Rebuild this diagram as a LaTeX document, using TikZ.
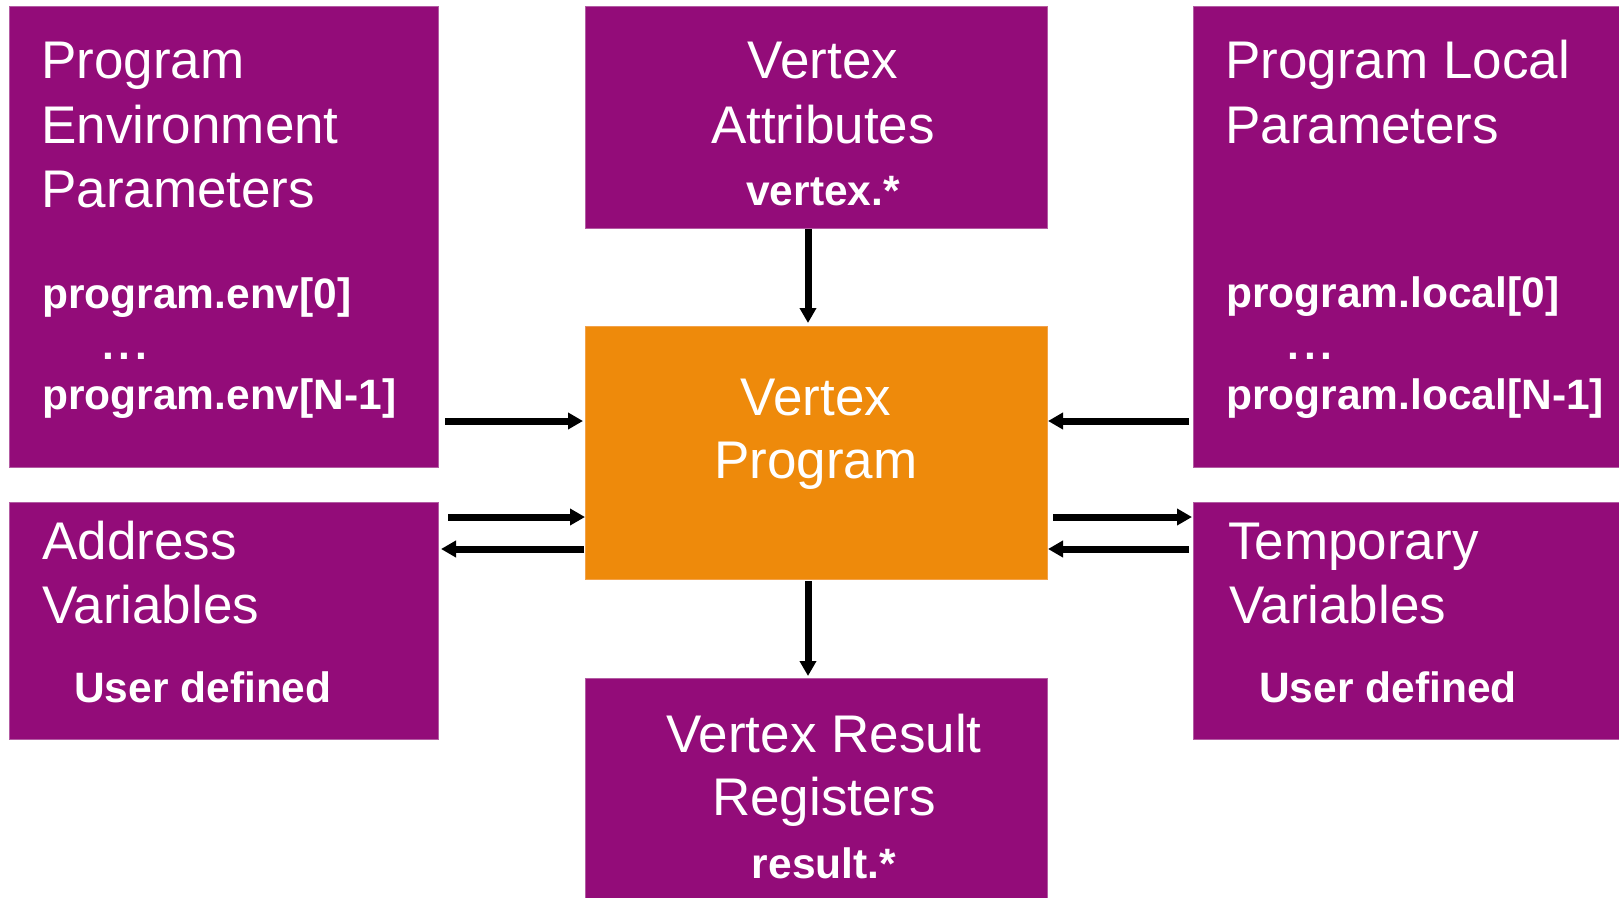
\documentclass[tikz,border=0pt]{standalone}
\usepackage{fontspec}
\setmainfont{Liberation Sans}
\usetikzlibrary{arrows.meta}
\definecolor{purp}{HTML}{930C79}
\definecolor{purpedge}{HTML}{B35CA3}
\definecolor{orng}{HTML}{EE8A0B}
\definecolor{orngedge}{HTML}{F3A24A}
\begin{document}
\begin{tikzpicture}[x=1pt,y=-1pt,
  box/.style={fill=purp,draw=purpedge,line width=0.8pt,inner sep=0pt,outer sep=0pt,anchor=north west},
  core/.style={box,fill=orng,draw=orngedge},
  head/.style={text=white,inner sep=0pt,font=\fontsize{53}{64}\selectfont},
  code/.style={text=white,inner sep=0pt,font=\fontsize{42.5}{51}\selectfont\bfseries},
  lt/.style={anchor=base west},
  ct/.style={anchor=base},
  link/.style={line width=7pt,-{Triangle[length=15pt,width=16pt]}},
]
\useasboundingbox (0,0) rectangle (1619,897);

% register blocks
\node[box,minimum width=429pt,minimum height=461pt] (penv)   at (9,6) {};
\node[box,minimum width=462pt,minimum height=222pt] (vattr)  at (585,6) {};
\node[box,minimum width=440pt,minimum height=461pt] (plocal) at (1193,6) {};
\node[box,minimum width=429pt,minimum height=237pt] (addr)   at (9,502) {};
\node[box,minimum width=440pt,minimum height=237pt] (temp)   at (1193,502) {};
\node[box,minimum width=462pt,minimum height=230pt] (result) at (585,678) {};
\node[core,minimum width=462pt,minimum height=253pt] (prog)  at (585,326) {};

% program environment parameters
\node[head,lt] (penvA) at (41,78)  {Program};
\node[head,lt] (penvB) at (41,143) {Environment};
\node[head,lt] (penvC) at (41,207) {Parameters};
\node[code,lt] (penvD) at (42,308) {program.env[0]};
\node[code,lt] (penvE) at (102,359) {.\kern5pt.\kern5pt.};
\node[code,lt] (penvF) at (42,409) {program.env[N-1]};

% vertex attributes
\node[head,ct] (vattrA) at (823,78)  {Vertex};
\node[head,ct] (vattrB) at (823,143) {Attributes};
\node[code,ct] (vattrC) at (823,205) {vertex.*};

% program local parameters
\node[head,lt] (plocA) at (1225,78)  {Program Local};
\node[head,lt] (plocB) at (1225,143) {Parameters};
\node[code,lt] (plocC) at (1226,307) {program.local[0]};
\node[code,lt] (plocD) at (1287,359) {.\kern5pt.\kern5pt.};
\node[code,lt] (plocE) at (1226,409) {program.local[N-1]};

% vertex program
\node[head,ct] (progA) at (816,415) {Vertex};
\node[head,ct] (progB) at (816,478) {Program};

% address variables
\node[head,lt] (addrA) at (42,559) {Address};
\node[head,lt] (addrB) at (42,623) {Variables};
\node[code,lt] (addrC) at (74,702) {User defined};

% temporary variables
\node[head,lt] (tempA) at (1228,559) {Temporary};
\node[head,lt] (tempB) at (1229,623) {Variables};
\node[code,lt] (tempC) at (1259,702) {User defined};

% vertex result registers
\node[head,ct] (resA) at (824,752) {Vertex Result};
\node[head,ct] (resB) at (824,815) {Registers};
\node[code,ct] (resC) at (824,878) {result.*};

% data flow
\draw[link,shorten <=7pt,shorten >=2pt] (penv.east |- 0,421) -- (prog.west |- 0,421);
\draw[link,shorten <=10pt] (addr.east |- 0,517) -- (prog.west |- 0,517);
\draw[link,shorten <=1pt,shorten >=3pt] (prog.west |- 0,549) -- (addr.east |- 0,549);
\draw[link,shorten <=4pt,shorten >=1pt] (plocal.west |- 0,421) -- (prog.east |- 0,421);
\draw[link,shorten <=6pt,shorten >=1pt] (prog.east |- 0,517) -- (temp.west |- 0,517);
\draw[link,shorten <=4pt,shorten >=1pt] (temp.west |- 0,549) -- (prog.east |- 0,549);
\draw[link,shorten <=1pt,shorten >=3pt] (vattr.south -| 808,0) -- (prog.north -| 808,0);
\draw[link,shorten <=2pt,shorten >=2pt] (prog.south -| 808,0) -- (result.north -| 808,0);
\end{tikzpicture}
\end{document}
